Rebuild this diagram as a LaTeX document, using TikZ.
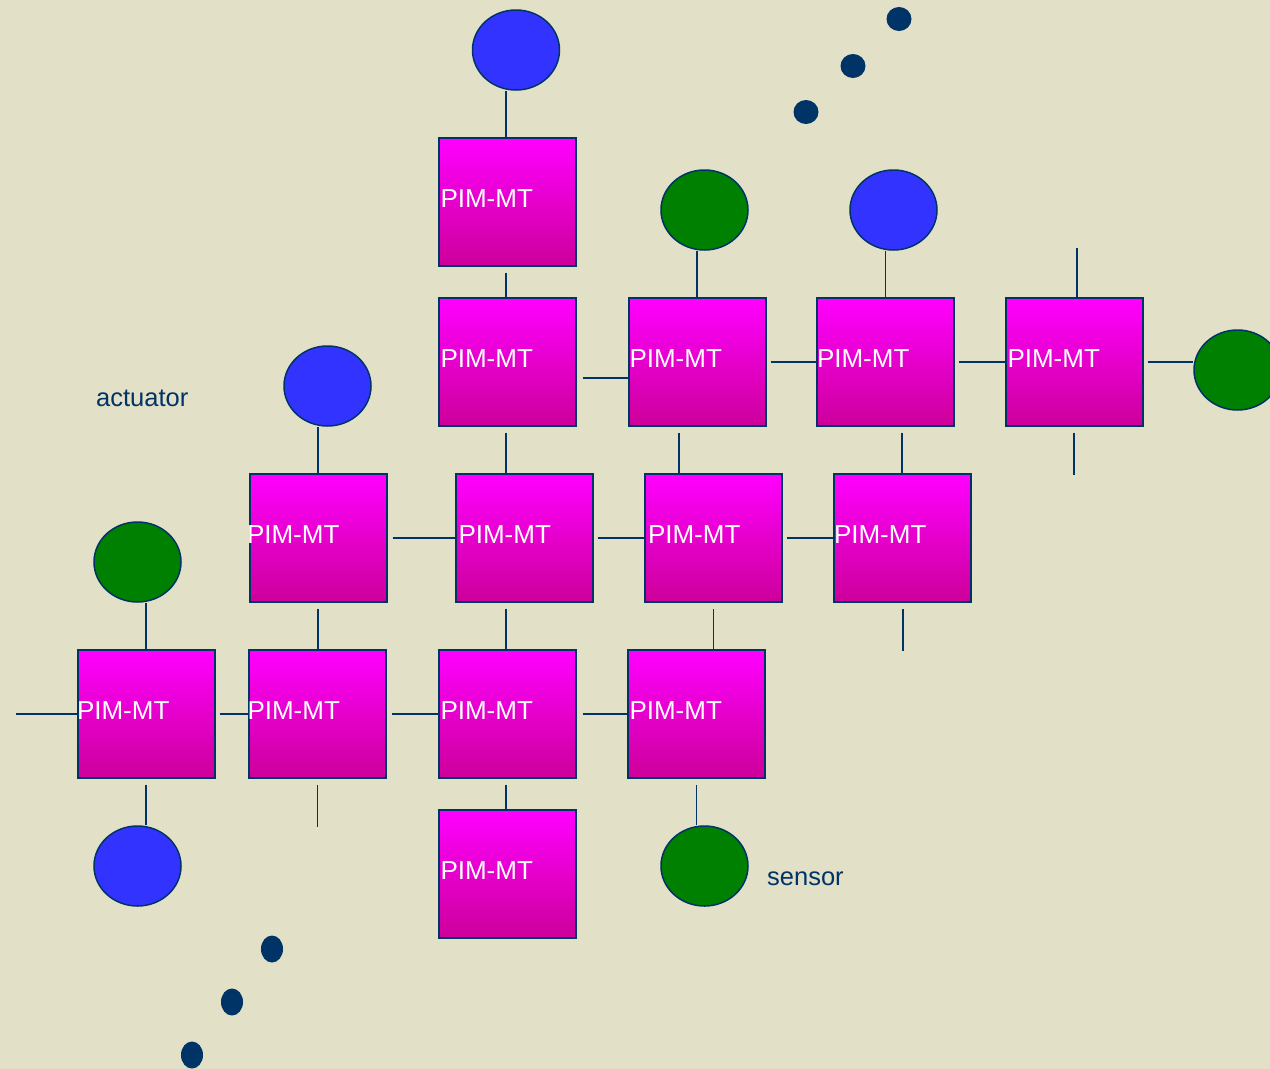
\documentclass[tikz,border=0pt]{standalone}
\usepackage{fontspec}
\setmainfont{Liberation Sans}
\usetikzlibrary{shapes.geometric,calc}

\definecolor{paper}{RGB}{226,224,198}
\definecolor{edge}{RGB}{0,51,102}
\definecolor{pimtop}{RGB}{255,0,255}
\definecolor{pimbot}{RGB}{204,0,153}
\definecolor{actblue}{RGB}{51,51,255}
\definecolor{sensgreen}{RGB}{0,128,0}

% tile caption, nudged horizontally by #1 pt
\newcommand\pimcap[1]{\hspace*{#1pt}PIM-MT}

\tikzset{
  pimbox/.style={draw=edge, line width=2pt, top color=pimtop, bottom color=pimbot,
    rectangle, minimum width=137pt, minimum height=128pt, inner xsep=3pt,
    text width=131pt, align=left, text=white,
    font=\fontsize{26}{31}\selectfont, text height=18pt, text depth=8pt},
  actuator/.style={ellipse, draw=edge, line width=1.5pt, fill=actblue,
    minimum width=87pt, minimum height=80pt, inner sep=0pt},
  sensornode/.style={ellipse, draw=edge, line width=1.5pt, fill=sensgreen,
    minimum width=87pt, minimum height=80pt, inner sep=0pt},
  link/.style={draw=edge, line width=1.7pt},
  dotmark/.style={ellipse, fill=edge, inner sep=0pt},
  caption/.style={text=edge, font=\fontsize{25.5}{30}\selectfont, inner sep=0pt, anchor=base west}
}

\begin{document}
\begin{tikzpicture}[x=1pt, y=-1pt]
  % canvas
  \fill[paper] (0,0) rectangle (1270,1069);
  \useasboundingbox (0,0) rectangle (1270,1069);
  \clip (0,0) rectangle (1270,1069);

  % processing-in-memory tiles
  \node[pimbox] (T0)  at (507,202)   {\pimcap{-1}};

  \node[pimbox] (R1a) at (507,362)   {\pimcap{-1}};
  \node[pimbox] (R1b) at (697,362)   {\pimcap{-2}};
  \node[pimbox] (R1c) at (885.5,362) {\pimcap{-3}};
  \node[pimbox] (R1d) at (1074,362)  {\pimcap{-1}};

  \node[pimbox] (R2a) at (318,538)   {\pimcap{-5.5}};
  \node[pimbox] (R2b) at (524,538)   {\pimcap{0}};
  \node[pimbox] (R2c) at (713.5,538) {\pimcap{0}};
  \node[pimbox] (R2d) at (902,538)   {\pimcap{-2.5}};

  \node[pimbox] (R3a) at (146,714)   {\pimcap{-3.5}};
  \node[pimbox] (R3b) at (317.5,714) {\pimcap{-4.5}};
  \node[pimbox] (R3c) at (507,714)   {\pimcap{-1}};
  \node[pimbox] (R3d) at (696.5,714) {\pimcap{-1.5}};

  \node[pimbox] (R4)  at (507,874)   {\pimcap{-1}};

  % actuators (blue) and sensors (green)
  \node[actuator]   (c1) at (516,50)     {};
  \node[sensornode] (c2) at (704.5,210)  {};
  \node[actuator]   (c3) at (893.5,210)  {};
  \node[sensornode] (c4) at (1237.5,370) {};
  \node[actuator]   (c5) at (327.5,386)  {};
  \node[sensornode] (c6) at (137.5,562)  {};
  \node[actuator]   (c7) at (137.5,866)  {};
  \node[sensornode] (c8) at (704.5,866)  {};

  % labels
  \node[caption] (lact) at (96,406)  {actuator};
  \node[caption] (lsen) at (767,885) {sensor};

  % continuation dots
  \node[dotmark, minimum width=25pt, minimum height=24pt] (d1) at (899,19)  {};
  \node[dotmark, minimum width=25pt, minimum height=24pt] (d2) at (853,66)  {};
  \node[dotmark, minimum width=25pt, minimum height=24pt] (d3) at (806,112) {};
  \node[dotmark, minimum width=22pt, minimum height=27pt] (d4) at (272,949)  {};
  \node[dotmark, minimum width=22pt, minimum height=27pt] (d5) at (232,1002) {};
  \node[dotmark, minimum width=22pt, minimum height=27pt] (d6) at (192,1055) {};

  % vertical links to sensors / actuators
  \draw[link] ([xshift=-1pt]T0.north) -- ([xshift=-1pt]T0.north |- c1.south);
  \draw[link] (R1b.north) -- (R1b.north |- c2.south);
  \draw[link] (R1c.north) -- (R1c.north |- c3.south);
  \draw[link] (R2a.north) -- (R2a.north |- c5.south);
  \draw[link] (R3a.north) -- (R3a.north |- c6.south);
  \draw[link] ([yshift=-6pt]R3a.south) -- (R3a.south |- c7.north);
  \draw[link] ([yshift=-6pt]R3d.south) -- (R3d.south |- c8.north);

  % vertical links between tiles
  \draw[link] ([xshift=-1pt,yshift=-6pt]T0.south) -- ([xshift=-1pt]R1a.north);
  \draw[link] ([xshift=-1pt,yshift=-6pt]R1a.south) -- ([xshift=-1pt]R1a.south |- R2b.north);
  \draw[link] ([xshift=-18pt,yshift=-6pt]R1b.south) coordinate (k1) -- (k1 |- R2c.north);
  \draw[link] (R2d.north) -- ($(R2d.north |- R1c.south)+(0,6)$);
  \draw[link] ([yshift=-6pt]R2a.south) -- (R2a.south |- R3b.north);
  \draw[link] ([xshift=-1pt]R3c.north) -- ($([xshift=-1pt]R3c.north |- R2b.south)+(0,6)$);
  \draw[link] ([yshift=-6pt]R2c.south) -- (R2c.south |- R3d.north);
  \draw[link] ([xshift=-1pt,yshift=-6pt]R3c.south) -- ([xshift=-1pt]R4.north);

  % horizontal links between tiles
  \draw[link] ([xshift=6pt,yshift=-16pt]R1a.east) -- ([yshift=-16pt]R1b.west);
  \draw[link] ([xshift=4pt]R1b.east) -- (R1c.west);
  \draw[link] ([xshift=4pt]R1c.east) -- (R1d.west);
  \draw[link] ([xshift=4pt]R1d.east) -- (R1d.east -| c4.west);

  \draw[link] ([xshift=5pt]R2a.east) -- (R2b.west);
  \draw[link] ([xshift=4pt]R2b.east) -- (R2c.west);
  \draw[link] ([xshift=4pt]R2c.east) -- (R2d.west);

  \draw[link] ([xshift=4pt]R3a.east) -- (R3b.west);
  \draw[link] ([xshift=5pt]R3b.east) -- (R3c.west);
  \draw[link] ([xshift=6pt]R3c.east) -- (R3d.west);

  % open-ended links to the rest of the mesh
  \draw[link] ([xshift=3pt]R1d.north) -- ([xshift=3pt,yshift=49pt]R1d.north);
  \draw[link] ([yshift=-6pt]R1d.south) -- ([yshift=-48pt]R1d.south);
  \draw[link] ([xshift=1pt,yshift=-6pt]R2d.south) -- ([xshift=1pt,yshift=-48pt]R2d.south);
  \draw[link] (R3a.west) -- ([xshift=-61pt]R3a.west);
  \draw[link] ([yshift=-6pt]R3b.south) -- ([yshift=-48pt]R3b.south);
\end{tikzpicture}
\end{document}
